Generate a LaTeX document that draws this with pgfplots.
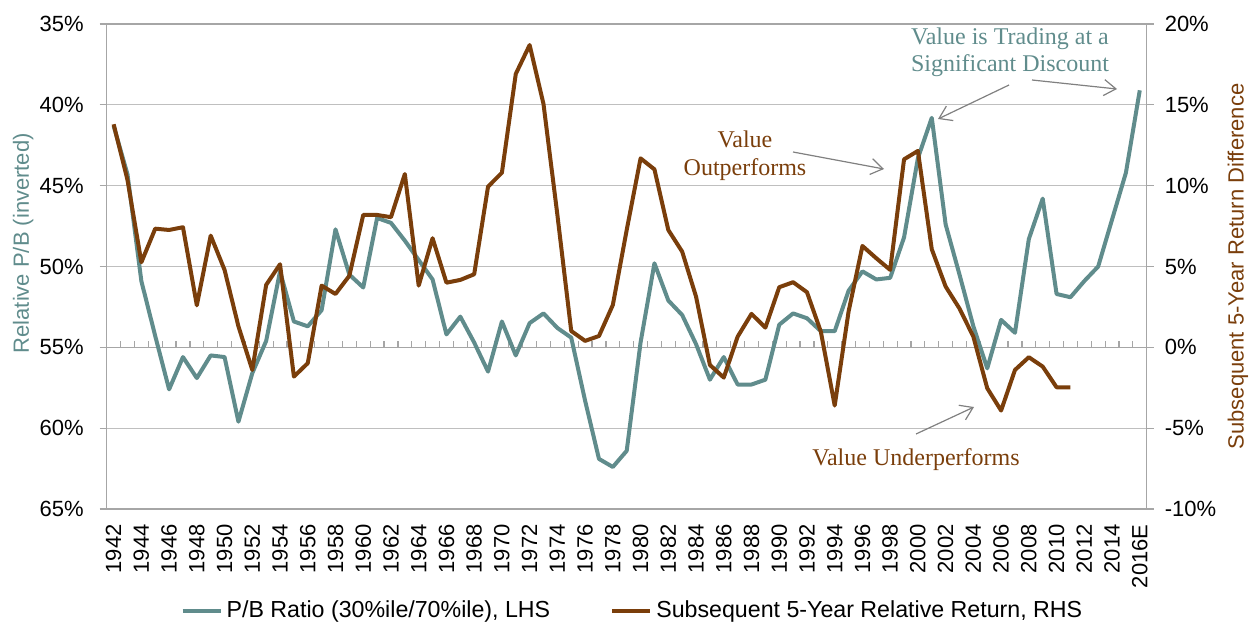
\documentclass[border=0pt]{standalone}
\usepackage{fontspec}
\setmainfont{Liberation Sans}
\newfontfamily\annfont{Liberation Serif}
\usepackage{pgfplots}
\usepackage{pgfplotstable}
\pgfplotsset{compat=1.18}
\usetikzlibrary{arrows.meta}
\definecolor{pbteal}{RGB}{96,140,140}
\definecolor{retbrown}{RGB}{122,62,11}
\definecolor{gridgray}{RGB}{191,191,191}
\definecolor{axisgray}{RGB}{166,166,166}
\definecolor{arrowgray}{RGB}{128,128,128}

\pgfplotstableread{
year pb
1942 41.3
1943 44.3
1944 50.9
1945 54.3
1946 57.6
1947 55.6
1948 56.9
1949 55.5
1950 55.6
1951 59.6
1952 56.6
1953 54.6
1954 50.3
1955 53.4
1956 53.7
1957 52.7
1958 47.7
1959 50.5
1960 51.3
1961 47.0
1962 47.3
1963 48.4
1964 49.6
1965 50.8
1966 54.2
1967 53.1
1968 54.7
1969 56.5
1970 53.4
1971 55.5
1972 53.5
1973 52.9
1974 53.8
1975 54.4
1976 58.3
1977 61.9
1978 62.4
1979 61.4
1980 54.7
1981 49.8
1982 52.1
1983 53.0
1984 54.8
1985 57.0
1986 55.6
1987 57.3
1988 57.3
1989 57.0
1990 53.6
1991 52.9
1992 53.2
1993 54.0
1994 54.0
1995 51.5
1996 50.3
1997 50.8
1998 50.7
1999 48.2
2000 43.3
2001 40.8
2002 47.4
2003 50.5
2004 53.7
2005 56.3
2006 53.3
2007 54.1
2008 48.3
2009 45.8
2010 51.7
2011 51.9
2012 50.9
2013 50.0
2014 47.1
2015 44.2
2016 39.1
}\pbdata

\pgfplotstableread{
year ret
1942 13.8
1943 10.35
1944 5.26
1945 7.34
1946 7.26
1947 7.43
1948 2.6
1949 6.91
1950 4.79
1951 1.3
1952 -1.4
1953 3.86
1954 5.14
1955 -1.81
1956 -0.98
1957 3.82
1958 3.30
1959 4.43
1960 8.19
1961 8.19
1962 8.05
1963 10.72
1964 3.82
1965 6.75
1966 4.0
1967 4.17
1968 4.52
1969 9.94
1970 10.8
1971 16.91
1972 18.70
1973 15.05
1974 8.2
1975 1.01
1976 0.40
1977 0.70
1978 2.62
1979 7.26
1980 11.69
1981 11.01
1982 7.26
1983 5.92
1984 3.14
1985 -1.09
1986 -1.87
1987 0.66
1988 2.07
1989 1.22
1990 3.72
1991 4.03
1992 3.41
1993 0.97
1994 -3.6
1995 2.21
1996 6.27
1997 5.51
1998 4.79
1999 11.63
2000 12.15
2001 6.07
2002 3.76
2003 2.4
2004 0.66
2005 -2.53
2006 -3.91
2007 -1.4
2008 -0.61
2009 -1.19
2010 -2.47
2011 -2.47
}\retdata

\begin{document}
\begin{tikzpicture}[font=\fontsize{11}{13}\selectfont]
\path[use as bounding box] (-53.35pt,-62pt) rectangle (572.15pt,254.5pt);
\pgfplotsset{common/.style={
  scale only axis, width=520pt, height=242.5pt,
  xmin=1941.5, xmax=2016.5,
  /pgf/number format/assume math mode=true,
  tick style={axisgray, line width=0.6pt},
  major tick length=3.5pt,
  tick align=outside,
  yticklabel={\pgfmathprintnumber{\tick}\%},
}}
\begin{axis}[common,
  y dir=reverse, ymin=35, ymax=65, ytick={35,40,...,65},
  ytick pos=left,
  yticklabel style={xshift=-4.5pt},
  xtick={1942,1944,...,2016},
  xticklabels={1942,1944,1946,1948,1950,1952,1954,1956,1958,1960,1962,1964,1966,1968,1970,1972,1974,1976,1978,1980,1982,1984,1986,1988,1990,1992,1994,1996,1998,2000,2002,2004,2006,2008,2010,2012,2014,2016E},
  xtick pos=bottom,
  x tick style={draw=none},
  xticklabel style={rotate=90, anchor=east, inner sep=0pt, xshift=-4pt},
  ymajorgrids, grid style={gridgray, line width=0.6pt},
  axis line style={axisgray, line width=0.6pt},
  ylabel={Relative P/B (inverted)},
  ylabel style={pbteal, at={(axis description cs:-0.0804,0.548)}, anchor=center},
]
\draw[axisgray, line width=0.8pt] (axis cs:1941.5,55) -- (axis cs:2016.5,55);
\pgfplotsinvokeforeach{1942,...,2015}{\draw[axisgray, line width=0.6pt] (axis cs:#1.5,55) -- ++(0pt,3pt);}
\addplot[pbteal, line width=2pt, line join=round] table[x=year, y=pb] {\pbdata};
\end{axis}
\begin{axis}[common,
  ymin=-10, ymax=20, ytick={-10,-5,...,20},
  axis y line*=right, axis x line=none,
  yticklabel style={xshift=2pt},
  axis line style={axisgray, line width=0.6pt},
  ylabel={Subsequent 5-Year Return Difference},
  ylabel style={retbrown, at={(axis description cs:1.0878,0.5)}, anchor=center},
  legend columns=2,
  legend style={at={(0.5065,-0.2103)}, anchor=center, draw=none, fill=none,
    font=\fontsize{11.6}{13}\selectfont,
    /tikz/every even column/.append style={column sep=28pt}},
  legend image code/.code={\draw[#1] (0pt,0pt) -- (19pt,0pt);},
]
\addlegendimage{pbteal, line width=2pt}
\addlegendentry{P/B Ratio (30\%ile/70\%ile), LHS}
\addplot[retbrown, line width=2pt, line join=round] table[x=year, y=ret] {\retdata};
\addlegendentry{Subsequent 5-Year Relative Return, RHS}
\end{axis}
% annotations
\begin{scope}[font=\annfont\fontsize{12}{14}\selectfont]
\node[pbteal, anchor=base] at (451.65pt,232pt) {Value is Trading at a};
\node[pbteal, anchor=base] at (451.65pt,218.5pt) {Significant Discount};
\node[retbrown, anchor=base] at (319.15pt,180.5pt) {Value};
\node[retbrown, anchor=base] at (319.15pt,167pt) {Outperforms};
\node[retbrown, anchor=base] at (404.65pt,22pt) {Value Underperforms};
\end{scope}
\begin{scope}[arrowgray, line width=0.6pt, -{Straight Barb[length=6pt,width=8pt]}]
\draw (451.15pt,212pt) -- (415.65pt,195pt);
\draw (462.65pt,214.5pt) -- (505.15pt,210pt);
\draw (343.15pt,178.5pt) -- (388.65pt,170pt);
\draw (404.65pt,37.5pt) -- (433.65pt,51pt);
\end{scope}
\end{tikzpicture}
\end{document}
